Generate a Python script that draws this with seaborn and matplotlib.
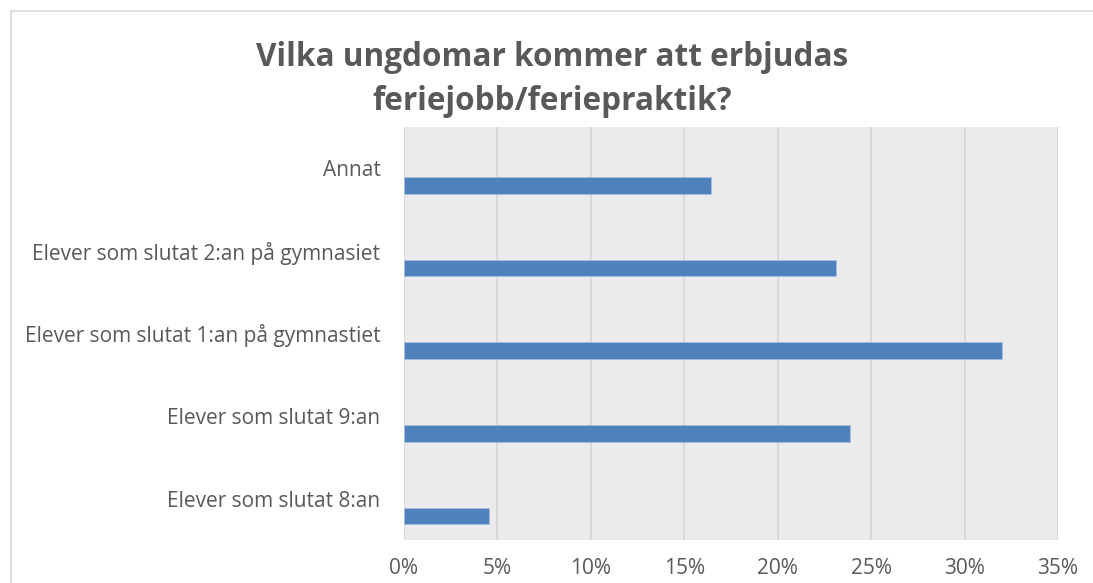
import seaborn as sns
from matplotlib import pyplot as plt
import matplotlib.ticker as ticker
from matplotlib.patches import Rectangle
import pandas as pd

categories = ['Annat',
              'Elever som slutat 2:an på gymnasiet',
              'Elever som slutat 1:an på gymnastiet',
              'Elever som slutat 9:an',
              'Elever som slutat 8:an']
shares = [16.45, 23.1, 32.0, 23.85, 4.55]
x_ticks = [0, 5, 10, 15, 20, 25, 30, 35]
title_lines = ['Vilka ungdomar kommer att erbjudas', 'feriejobb/feriepraktik?']

sns.set_theme(style='darkgrid')
plt.rcParams['font.family'] = ['Open Sans', 'DejaVu Sans']

df = pd.DataFrame({'category': categories, 'share': shares})

txt = '#595959'
fig = plt.figure(figsize=(10.93, 5.83), dpi=100)
ax = fig.add_axes([404 / 1093, 1 - 540 / 583, 654 / 1093, 413.3 / 583])

sns.barplot(x='share', y='category', data=df, orient='h', width=0.2,
            color='#4F81BD', saturation=1, edgecolor='#A7C0E0', linewidth=0.6, ax=ax)

# Excel puts the single series low in each band
for p in ax.patches:
    p.set_y(p.get_y() + 0.21)

ax.set_facecolor('#EBEBEB')
ax.set_xlim(0, 35)
ax.set_ylim(4.5, -0.5)
ax.set_xticks(x_ticks)
ax.xaxis.set_major_formatter(ticker.PercentFormatter(decimals=0))
ax.grid(axis='x', color='#D9D9D9', linewidth=1.4)
ax.grid(axis='y', visible=False)
for s in ax.spines.values():
    s.set_visible(False)
ax.tick_params(axis='both', length=0, labelsize=15, labelcolor=txt)
ax.tick_params(axis='y', pad=17)
ax.tick_params(axis='x', pad=13)
ax.set_xlabel('')
ax.set_ylabel('')

fig.text(552.5 / 1093, 1 - 57 / 583, title_lines[0], ha='center', va='center',
         fontsize=22.7, fontweight='bold', color=txt)
fig.text(552.5 / 1093, 1 - 101 / 583, title_lines[1], ha='center', va='center',
         fontsize=22.7, fontweight='bold', color=txt)

# chart frame, cut off at the right and bottom edges
fig.patches.append(Rectangle((10.5 / 1093, -0.1), 1.2, 1 - 11.5 / 583 + 0.1,
                             transform=fig.transFigure, fill=False,
                             edgecolor='#D9D9D9', linewidth=1.2))

plt.savefig('out.png', dpi=100)
